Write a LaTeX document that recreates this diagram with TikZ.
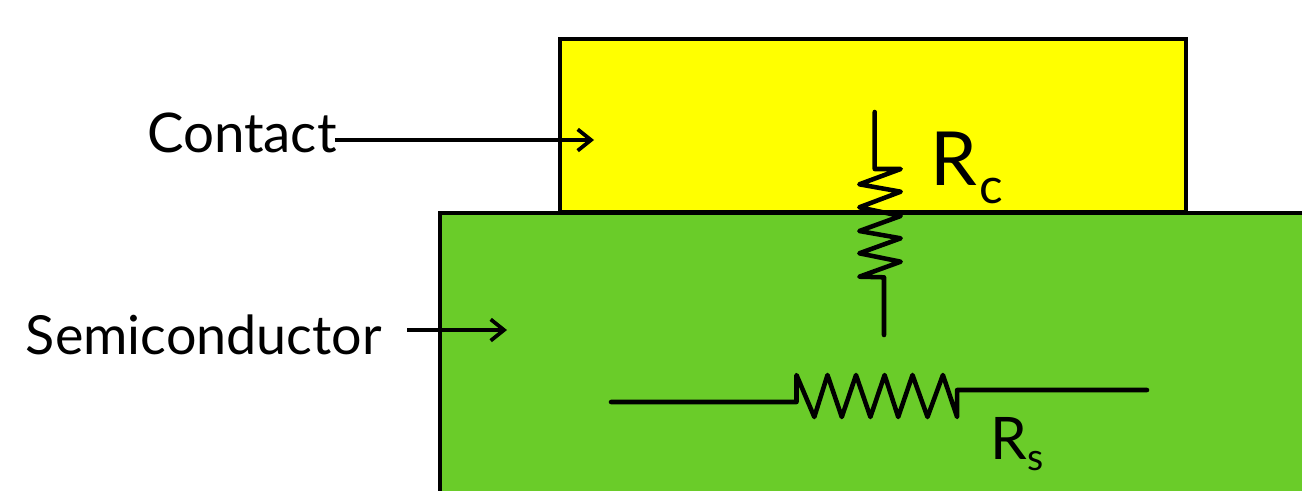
\documentclass[tikz,border=0pt]{standalone}
\usepackage{fontspec}
\setmainfont{Lato}
\usetikzlibrary{arrows.meta}
\definecolor{contactyellow}{HTML}{FFFF00}
\definecolor{semigreen}{HTML}{6ACC29}
\tikzset{
  block/.style={draw=black,line width=3pt,anchor=north west,inner sep=0pt,outer sep=0pt},
  wire/.style={draw=black,line width=3.4pt,line join=round,line cap=round},
  pointer/.style={draw=black,line width=2.8pt,-{Straight Barb[length=10pt,width=16pt,line width=2.8pt]}},
  label/.style={inner sep=0pt,outer sep=0pt,text=black,anchor=base west},
}
\begin{document}
\begin{tikzpicture}[x=0.75pt,y=-0.75pt]
\useasboundingbox (0,0) rectangle (1302,490);
\clip (0,0) rectangle (1302,490);
\node[block,fill=contactyellow,minimum width=469.5pt,minimum height=130pt] (contactbox) at (559.5,39) {};
\node[block,fill=semigreen,minimum width=700pt,minimum height=300pt] (semibox) at (439.5,212.5) {};
\node[label,font=\fontsize{41pt}{41pt}\selectfont] (contact) at (147,152) {Contact};
\node[label,font=\fontsize{40.4pt}{40.4pt}\selectfont] (semi) at (26,354) {Semiconductor};
\node[label,font=\fontsize{56pt}{56pt}\selectfont] (rc) at (930,185) {R};
\node[label,font=\fontsize{37pt}{37pt}\selectfont] (rcsub) at (979,203) {c};
\node[label,font=\fontsize{44pt}{44pt}\selectfont] (rs) at (990,459) {R};
\node[label,font=\fontsize{28pt}{28pt}\selectfont] (rssub) at (1027,470) {s};
\coordinate (ca) at (335,140);
\coordinate (cb) at (594,140);
\coordinate (sa) at (407,330);
\coordinate (sb) at (507,330);
\draw[pointer] (ca) -- (cb);
\draw[pointer] (sa) -- (sb);
\coordinate (vtop) at (874.7,112);
\coordinate (vbot) at (884,335);
\draw[wire] (vtop) -- (874.7,169) -- (900.7,169) -- (859.3,184.3) -- (900.7,191.7) -- (859.3,207.3) -- (900.7,216) -- (859.3,231) -- (900.7,238.3) -- (859.3,253.3) -- (900.7,261.7) -- (859.3,276.7) -- (884,277.3) -- (vbot);
\coordinate (hleft) at (611,402);
\coordinate (hright) at (1147,390);
\draw[wire] (hleft) -- (796.5,402) -- (796.5,375) -- (814.3,417) -- (827.5,375) -- (841.8,417) -- (856,375) -- (870.4,417) -- (884.6,375) -- (898.2,417) -- (912.5,375) -- (927.5,417) -- (942.9,375) -- (957.1,417) -- (957.1,390) -- (hright);
\end{tikzpicture}
\end{document}
